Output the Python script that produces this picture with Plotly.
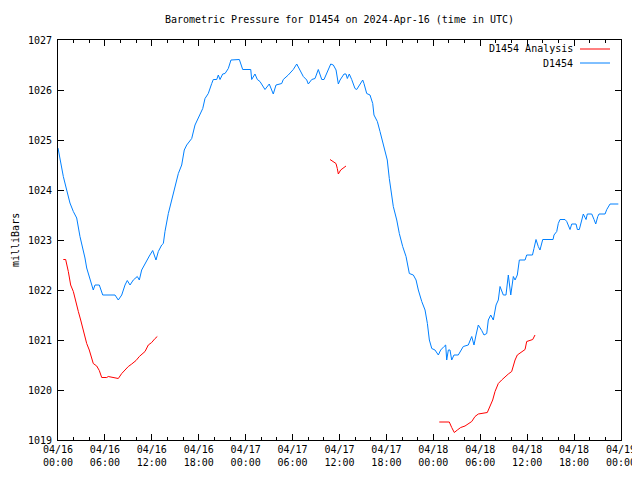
import pandas as pd
import plotly.graph_objects as go

# Hours since 2024-04-16 00:00 UTC and pressure (mbar)
obs_hours = [0.0, 0.68, 1.11, 1.53, 1.96, 2.39, 2.81, 3.24, 3.45, 3.67, 4.09, 4.31, 4.51, 4.73, 5.28, 5.72,
             7.29, 7.71, 8.15, 8.57, 8.86, 9.21, 9.63, 10.14, 10.40, 10.70, 11.13, 11.68, 12.11, 12.53, 12.83,
             13.26, 13.47, 13.68, 14.11, 14.54, 14.96, 15.39, 15.82, 16.15, 16.46, 17.10, 17.52, 18.07, 18.51,
             18.80, 19.22, 19.66, 19.86, 20.30, 20.50, 20.72, 21.06, 21.36, 21.78, 22.12, 23.19, 23.62, 24.65,
             24.77, 25.19, 25.49, 25.83, 26.47, 27.02, 27.53, 27.88, 28.61, 28.81, 29.45, 30.09, 30.53, 30.86,
             31.37, 31.81, 32.01, 32.45, 32.87, 33.29, 33.73, 34.02, 34.57, 34.88, 35.21, 35.56, 35.85, 36.07,
             36.58, 36.83, 37.00, 37.25, 37.56, 37.98, 38.20, 38.62, 38.97, 39.13, 39.48, 39.90, 40.25, 40.41,
             40.84, 41.18, 41.53, 41.82, 42.11, 42.37, 42.55, 42.88, 43.32, 43.65, 44.08, 44.51, 44.93, 45.44,
             45.79, 46.08, 46.52, 46.94, 47.24, 47.49, 47.80, 48.21, 48.64, 48.94, 49.37, 49.58, 49.71, 49.92,
             50.13, 50.35, 50.64, 51.19, 51.83, 52.47, 52.91, 53.20, 53.46, 53.75, 54.19, 54.48, 54.83, 55.03,
             55.34, 55.67, 56.02, 56.31, 56.53, 56.74, 56.95, 57.29, 57.59, 57.90, 58.23, 58.45, 58.74, 59.00,
             59.73, 59.94, 60.68, 60.87, 61.13, 61.42, 61.64, 61.99, 63.31, 63.43, 63.78, 63.98, 64.20, 64.84,
             65.06, 65.48, 65.70, 66.25, 66.42, 66.67, 66.98, 67.18, 67.40, 67.53, 67.69, 68.26, 68.55, 68.77,
             69.03, 69.19, 69.96, 70.18, 70.60, 71.66]
obs_mb = [1024.84, 1024.27, 1024.00, 1023.74, 1023.57, 1023.44, 1023.07, 1022.80, 1022.64, 1022.44, 1022.20,
          1022.10, 1022.00, 1022.10, 1022.10, 1021.90, 1021.90, 1021.80, 1021.90, 1022.10, 1022.19, 1022.10,
          1022.20, 1022.27, 1022.20, 1022.40, 1022.53, 1022.68, 1022.79, 1022.60, 1022.77, 1022.90, 1022.93,
          1023.17, 1023.53, 1023.80, 1024.10, 1024.33, 1024.50, 1024.80, 1024.90, 1025.03, 1025.30, 1025.50,
          1025.63, 1025.83, 1025.93, 1026.13, 1026.21, 1026.21, 1026.30, 1026.21, 1026.32, 1026.33, 1026.43,
          1026.60, 1026.61, 1026.41, 1026.41, 1026.21, 1026.32, 1026.21, 1026.17, 1026.01, 1026.12, 1025.92,
          1026.10, 1026.13, 1026.21, 1026.30, 1026.41, 1026.52, 1026.41, 1026.27, 1026.20, 1026.12, 1026.21,
          1026.23, 1026.41, 1026.21, 1026.21, 1026.41, 1026.52, 1026.50, 1026.40, 1026.12, 1026.20, 1026.32,
          1026.32, 1026.23, 1026.32, 1026.21, 1026.03, 1026.01, 1026.13, 1026.20, 1026.13, 1025.93, 1025.90,
          1025.73, 1025.50, 1025.37, 1025.17, 1024.97, 1024.80, 1024.60, 1024.23, 1024.00, 1023.67, 1023.40,
          1023.13, 1022.87, 1022.67, 1022.33, 1022.30, 1022.20, 1022.00, 1021.77, 1021.60, 1021.33, 1021.00,
          1020.83, 1020.80, 1020.70, 1020.80, 1020.87, 1020.90, 1020.60, 1020.80, 1020.80, 1020.60, 1020.70,
          1020.70, 1020.87, 1020.90, 1021.07, 1020.90, 1021.10, 1021.30, 1021.19, 1021.10, 1021.13, 1021.40,
          1021.50, 1021.40, 1021.70, 1021.80, 1022.07, 1021.97, 1021.90, 1021.90, 1022.30, 1021.90, 1022.27,
          1022.20, 1022.30, 1022.60, 1022.60, 1022.70, 1022.70, 1022.83, 1023.01, 1022.87, 1022.80, 1023.01,
          1023.01, 1023.10, 1023.17, 1023.33, 1023.41, 1023.41, 1023.37, 1023.21, 1023.32, 1023.32, 1023.21,
          1023.21, 1023.41, 1023.52, 1023.45, 1023.41, 1023.52, 1023.52, 1023.41, 1023.32, 1023.47, 1023.52,
          1023.52, 1023.61, 1023.72, 1023.72]

ana_hours_1 = [0.68, 0.98, 1.32, 1.62, 1.96, 2.30, 2.60, 2.90, 3.24, 3.67, 4.00, 4.31, 4.51, 4.95, 5.28, 5.59,
               6.23, 6.43, 7.29, 7.71, 8.15, 8.57, 8.99, 9.43, 9.98, 10.40, 10.70, 11.13, 11.55, 11.98, 12.41, 12.70]
ana_mb_1 = [1022.61, 1022.61, 1022.37, 1022.10, 1021.97, 1021.73, 1021.57, 1021.40, 1021.20, 1020.93, 1020.80,
            1020.63, 1020.53, 1020.48, 1020.39, 1020.25, 1020.25, 1020.27, 1020.25, 1020.23, 1020.33, 1020.41,
            1020.47, 1020.52, 1020.59, 1020.67, 1020.72, 1020.77, 1020.90, 1020.95, 1021.03, 1021.07]
ana_hours_2 = [34.79, 35.21, 35.55, 35.72, 35.85, 36.15, 36.49, 36.83]
ana_mb_2 = [1024.61, 1024.57, 1024.53, 1024.43, 1024.32, 1024.40, 1024.45, 1024.48]
ana_hours_3 = [48.76, 50.04, 50.35, 50.68, 51.07, 51.50, 52.05, 52.47, 52.91, 53.33, 53.75, 54.90, 55.25, 55.59,
               55.89, 56.31, 56.74, 57.17, 57.59, 58.02, 58.45, 58.74, 59.30, 59.73, 59.94, 60.36, 60.71, 61.00]
ana_mb_3 = [1019.36, 1019.36, 1019.25, 1019.15, 1019.20, 1019.25, 1019.28, 1019.33, 1019.37, 1019.47, 1019.52,
            1019.55, 1019.67, 1019.80, 1019.97, 1020.13, 1020.20, 1020.27, 1020.32, 1020.37, 1020.60, 1020.70,
            1020.77, 1020.81, 1020.97, 1020.99, 1021.01, 1021.10]

BASE = pd.Timestamp("2024-04-16 00:00")
FONT = "DejaVu Sans Mono"
RED = "#ff0000"
BLUE = "#0080ff"

# Target plot-area geometry on screen (pixels); the page body adds an 8px offset.
OFF = 8
L, R, T, B = 58, 621, 40, 440
W, H = 640 - OFF, 480 - OFF


def to_time(hours):
    return [BASE + pd.Timedelta(hours=h) if h is not None else None for h in hours]


ana_hours = ana_hours_1 + [None] + ana_hours_2 + [None] + ana_hours_3
ana_mb = ana_mb_1 + [None] + ana_mb_2 + [None] + ana_mb_3

fig = go.Figure()
fig.add_trace(go.Scatter(x=to_time(ana_hours), y=ana_mb, mode="lines", name="D1454 Analysis",
                         line=dict(color=RED, width=1), connectgaps=False, showlegend=False))
fig.add_trace(go.Scatter(x=to_time(obs_hours), y=obs_mb, mode="lines", name="D1454",
                         line=dict(color=BLUE, width=1), showlegend=False))

# gnuplot-style legend: text right-aligned, line sample to its right
legend_items = [("D1454 Analysis", RED), ("D1454", BLUE)]
for i, (label, col) in enumerate(legend_items):
    ypix = 49 + 14 * i
    yp = 1 - (ypix - T) / (B - T)
    fig.add_annotation(x=(575 - L) / (R - L), y=yp, xref="paper", yref="paper", text=label,
                       showarrow=False, xanchor="right", yanchor="middle",
                       font=dict(family=FONT, size=10, color="black"))
    fig.add_shape(type="line", xref="paper", yref="paper", x0=(580 - L) / (R - L), x1=(610 - L) / (R - L),
                  y0=yp, y1=yp, line=dict(color=col, width=1))

# y-axis title (rotated), placed like gnuplot's ylabel
fig.add_annotation(x=(15 - L) / (R - L), y=0.5, xref="paper", yref="paper", text="milliBars",
                   textangle=-90, showarrow=False, xanchor="center", yanchor="middle",
                   font=dict(family=FONT, size=10, color="black"))

fig.update_layout(
    width=W, height=H,
    margin=dict(l=L - OFF, r=W - (R - OFF), t=T - OFF, b=H - (B - OFF), autoexpand=False),
    paper_bgcolor="white", plot_bgcolor="white",
    font=dict(family=FONT, size=10, color="black"),
    title=dict(text="Barometric Pressure for D1454 on 2024-Apr-16 (time in UTC)",
               x=0.5, xref="paper", y=1 - (19 - OFF) / H, yref="container", yanchor="middle",
               font=dict(family=FONT, size=10, color="black")),
)
fig.update_xaxes(
    type="date", range=[BASE, BASE + pd.Timedelta(hours=72)], automargin=False,
    dtick=6 * 3600 * 1000, tick0=BASE, tickformat="%m/%d<br>%H:%M",
    ticks="inside", ticklen=6, tickcolor="black", tickwidth=1,
    minor=dict(dtick=2 * 3600 * 1000, ticks="inside", ticklen=3, tickcolor="black", showgrid=False),
    showline=True, linecolor="black", linewidth=1, mirror="allticks",
    showgrid=False, zeroline=False, tickfont=dict(family=FONT, size=10, color="black"),
)
fig.update_yaxes(
    range=[1019, 1027], dtick=1, tick0=1019, automargin=False,
    ticks="inside", ticklen=6, tickcolor="black", tickwidth=1, ticklabelstandoff=3,
    showline=True, linecolor="black", linewidth=1, mirror="allticks",
    showgrid=False, zeroline=False, tickfont=dict(family=FONT, size=10, color="black"),
)

fig.write_html("out.html")
